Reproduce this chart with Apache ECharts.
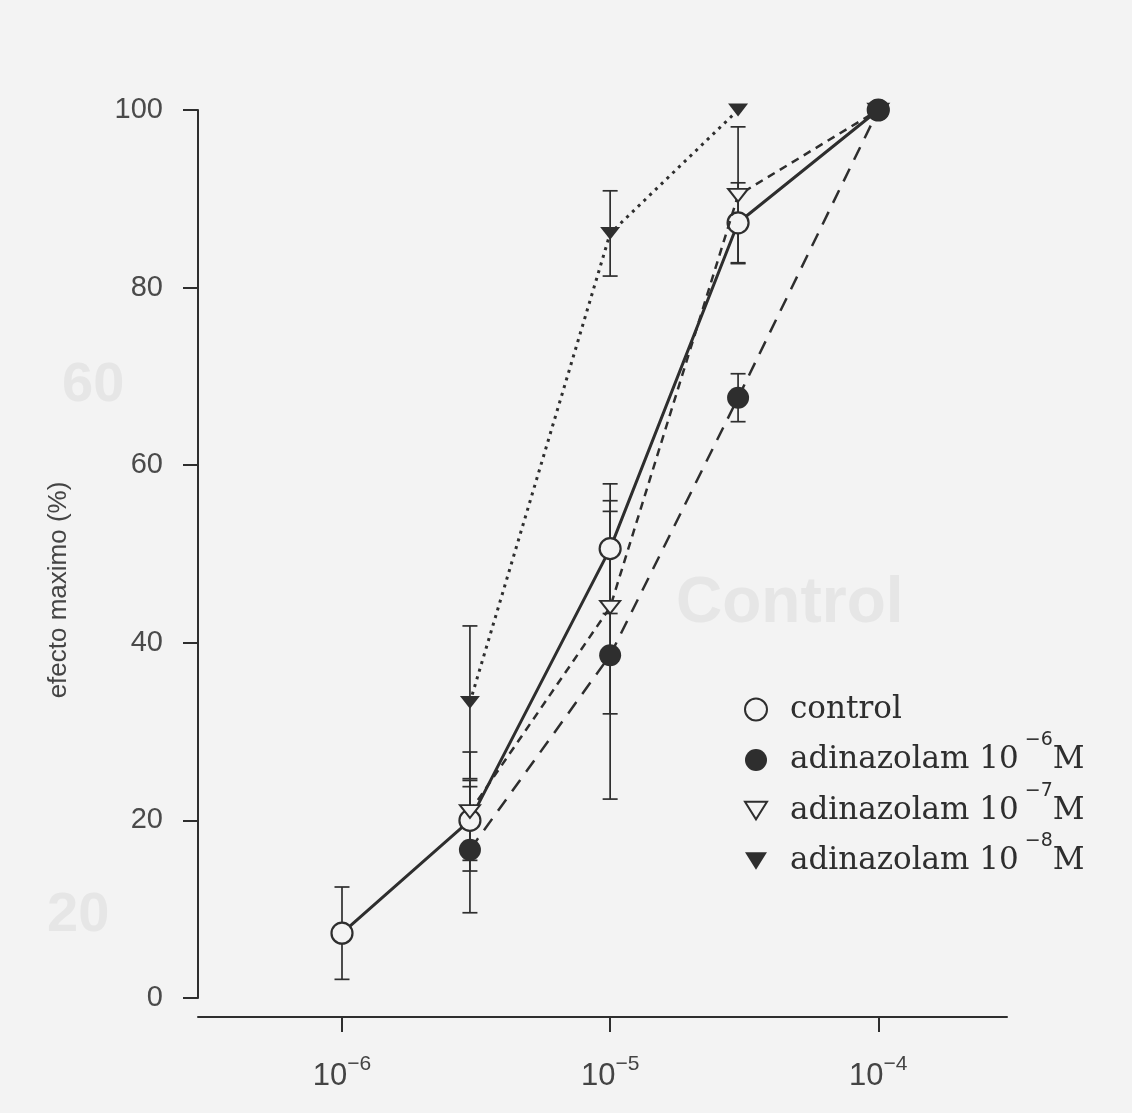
<!DOCTYPE html>
<html>
<head>
<meta charset="utf-8">
<title>efecto maximo</title>
<script src="https://cdn.jsdelivr.net/npm/echarts@6/dist/echarts.min.js"></script>
<style>
html,body{margin:0;padding:0;background:#f3f3f3;}
#chart{width:1132px;height:1113px;}
</style>
</head>
<body>
<div id="chart"></div>
<script>
// concentracion de agonista (M)
const concentraciones = [1e-6, 3e-6, 1e-5, 3e-5, 1e-4];
const xTicks = [-6, -5, -4];

// efecto maximo (%) y error de cada grupo, null = sin dato
const control       = [7.3, 20.0, 50.6, 87.3, 100];
const controlErr    = [5.2, 4.5, 7.3, 4.5, 0];
const adin6         = [null, 16.7, 38.6, 67.6, 100];
const adin6Err      = [null, 7.1, 16.2, 2.7, 0];
const adin7         = [null, 21.0, 44.0, 90.4, 100];
const adin7Err      = [null, 6.7, 12.0, 7.7, 0];
const adin8         = [null, 33.3, 86.1, 100, null];
const adin8Err      = [null, 8.6, 4.8, 0, null];

const nombres = ['control', 'adinazolam 10-6 M', 'adinazolam 10-7 M', 'adinazolam 10-8 M'];
const exponentes = [null, '6', '7', '8'];

const ink = '#2e2e2e';
const paper = '#f3f3f3';
const triPath = 'path://M0,0L20,0L10,16Z';

function puntos(vals) {
	let out = [];
	concentraciones.forEach((c, i) => {
		if (vals[i] != null) out.push([Math.log10(c), vals[i]]);
	});
	return out;
}
function barras(vals, errs) {
	let out = [];
	concentraciones.forEach((c, i) => {
		if (vals[i] != null && errs[i]) out.push([Math.log10(c), vals[i] - errs[i], vals[i] + errs[i]]);
	});
	return out;
}
function renderError(params, api) {
	const x = api.value(0);
	const lo = api.coord([x, api.value(1)]);
	const hi = api.coord([x, api.value(2)]);
	const w = 7.5;
	const style = { stroke: ink, lineWidth: 1.7 };
	return {
		type: 'group',
		children: [
			{ type: 'line', shape: { x1: lo[0], y1: lo[1], x2: hi[0], y2: hi[1] }, style: style },
			{ type: 'line', shape: { x1: lo[0] - w, y1: lo[1], x2: lo[0] + w, y2: lo[1] }, style: style },
			{ type: 'line', shape: { x1: hi[0] - w, y1: hi[1], x2: hi[0] + w, y2: hi[1] }, style: style }
		]
	};
}
function errorSeries(name, vals, errs) {
	return {
		name: name,
		type: 'custom',
		renderItem: renderError,
		data: barras(vals, errs),
		encode: { x: 0, y: [1, 2] },
		z: 1,
		silent: true
	};
}

const myChart = echarts.init(document.getElementById('chart'));
const option = {
	backgroundColor: paper,
	animation: false,
	grid: { left: 198, right: 125, top: 110, bottom: 115 },
	xAxis: {
		type: 'value',
		min: -6.537,
		max: -3.52,
		offset: 19,
		axisLine: { show: true, onZero: false, lineStyle: { color: ink, width: 2 } },
		axisTick: { show: true, customValues: xTicks, length: 15, inside: false, lineStyle: { color: ink, width: 2 } },
		splitLine: { show: false },
		axisLabel: {
			customValues: xTicks,
			margin: 37,
			color: '#444',
			formatter: v => '{b|10}{s|\u2212' + Math.abs(v) + '}',
			rich: {
				b: { fontFamily: 'Liberation Sans', fontSize: 31, lineHeight: 44, color: '#444' },
				s: { fontFamily: 'Liberation Sans', fontSize: 21, lineHeight: 21, verticalAlign: 'top', color: '#444' }
			}
		}
	},
	yAxis: {
		type: 'value',
		min: 0,
		max: 100,
		interval: 20,
		name: 'efecto maximo (%)',
		nameLocation: 'middle',
		nameGap: 126,
		nameRotate: 90,
		nameTextStyle: { fontFamily: 'Liberation Sans', fontSize: 26, color: '#444', padding: [0, 72, 0, 0] },
		axisLine: { show: true, lineStyle: { color: ink, width: 2 } },
		axisTick: { show: true, length: 15, inside: false, lineStyle: { color: ink, width: 2 } },
		splitLine: { show: false },
		axisLabel: { margin: 35, fontFamily: 'Liberation Sans', fontSize: 29, color: '#4a4a4a' }
	},
	legend: {
		orient: 'vertical',
		left: 739,
		top: 689,
		itemWidth: 22,
		itemHeight: 22,
		itemGap: 6,
		selectedMode: false,
		data: [
			{ name: nombres[0], icon: 'circle' },
			{ name: nombres[1], icon: 'circle' },
			{ name: nombres[2], icon: triPath },
			{ name: nombres[3], icon: triPath }
		],
		formatter: name => {
			const i = nombres.indexOf(name);
			if (!exponentes[i]) return '{g| }{t|control}';
			return '{g| }{t|adinazolam 10}{s| \u2212' + exponentes[i] + '}{t|M}';
		},
		textStyle: {
			color: ink,
			rich: {
				g: { width: 18 },
				t: { fontFamily: 'DejaVu Serif', fontSize: 31, lineHeight: 58, color: ink },
				s: { fontFamily: 'DejaVu Sans', fontSize: 19, lineHeight: 19, verticalAlign: 'top', color: ink }
			}
		}
	},
	graphic: [
		// transparencia de la pagina siguiente
		{ type: 'text', left: 676, top: 572, silent: true, z: -1, style: { text: 'Control', font: 'bold 64px Liberation Sans', fill: '#e6e6e6' } },
		{ type: 'text', left: 62, top: 358, silent: true, z: -1, style: { text: '60', font: 'bold 56px Liberation Sans', fill: '#e6e6e6' } },
		{ type: 'text', left: 47, top: 888, silent: true, z: -1, style: { text: '20', font: 'bold 56px Liberation Sans', fill: '#e6e6e6' } }
	],
	series: [
		errorSeries('err control', control, controlErr),
		errorSeries('err 6', adin6, adin6Err),
		errorSeries('err 7', adin7, adin7Err),
		errorSeries('err 8', adin8, adin8Err),
		{
			name: nombres[0],
			type: 'line',
			data: puntos(control),
			symbol: 'circle',
			symbolSize: 21,
			lineStyle: { color: ink, width: 3 },
			itemStyle: { color: paper, borderColor: ink, borderWidth: 2.2 },
			z: 3
		},
		{
			name: nombres[2],
			type: 'line',
			data: puntos(adin7),
			symbol: triPath,
			symbolSize: [20, 16],
			symbolKeepAspect: true,
			lineStyle: { color: ink, width: 2.5, type: [8, 6] },
			itemStyle: { color: paper, borderColor: ink, borderWidth: 2 },
			z: 4
		},
		{
			name: nombres[3],
			type: 'line',
			data: puntos(adin8),
			symbol: triPath,
			symbolSize: [20, 16],
			symbolKeepAspect: true,
			lineStyle: { color: ink, width: 3, type: [3, 5] },
			itemStyle: { color: ink, borderColor: ink, borderWidth: 0 },
			z: 4
		},
		{
			name: nombres[1],
			type: 'line',
			data: puntos(adin6),
			symbol: 'circle',
			symbolSize: 22,
			lineStyle: { color: ink, width: 2.5, type: [14, 10] },
			itemStyle: { color: ink, borderColor: ink, borderWidth: 0 },
			z: 5
		}
	]
};
myChart.setOption(option);
</script>
</body>
</html>
